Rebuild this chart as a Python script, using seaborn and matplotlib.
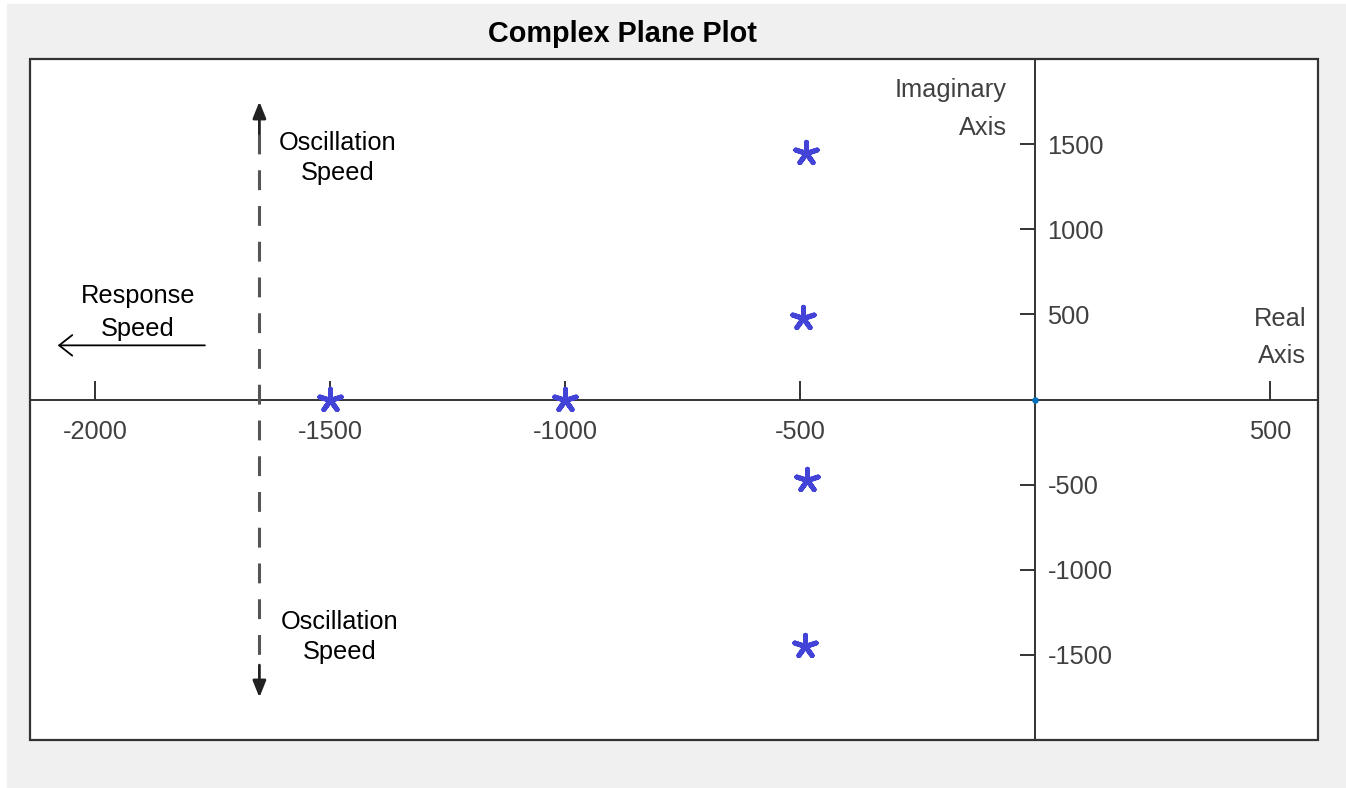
import matplotlib
matplotlib.use("Agg")
import matplotlib.pyplot as plt
import seaborn as sns
from matplotlib.patches import Rectangle

# ── Data ──────────────────────────────────────────────────────────────────────
POLE_REAL = [-1500, -1000, -488, -494, -486, -489]
POLE_IMAG = [0, 0, 1447, 476, -471, -1447]
ORIGIN_X = [0]
ORIGIN_Y = [0]
X_TICKS = [-2000, -1500, -1000, -500, 500]
Y_TICKS = [-1500, -1000, -500, 500, 1000, 1500]
X_LIM = (-2138, 602)
Y_LIM = (-2000, 2000)

# ── Style ─────────────────────────────────────────────────────────────────────
sns.set_theme(style="white")
plt.rcParams["font.family"] = ["Liberation Sans", "DejaVu Sans"]
plt.rcParams["axes.unicode_minus"] = False

AXIS_COL = "#333333"
TEXT_COL = "#404040"
STAR_COL = "#4343d8"
FS = 18.3

fig = plt.figure(figsize=(13.46, 7.88), dpi=100, facecolor="white")
fig.add_artist(Rectangle((7 / 1346, 0), 1, 1 - 4 / 788, transform=fig.transFigure,
                         color="#f0f0f0", zorder=-10))

ax = fig.add_axes([30 / 1346, 48 / 788, 1288 / 1346, 681 / 788])
ax.set_facecolor("white")

# poles + origin
sns.scatterplot(x=POLE_REAL, y=POLE_IMAG, marker=(5, 2, 0), s=260,
                color=STAR_COL, linewidth=3.6, ax=ax, zorder=5)
sns.scatterplot(x=ORIGIN_X, y=ORIGIN_Y, color="#0072bd", s=22,
                linewidth=0, ax=ax, zorder=6)

ax.set_xlim(*X_LIM)
ax.set_ylim(*Y_LIM)

# axes through the origin
ax.spines["bottom"].set_position(("data", 0))
ax.spines["right"].set_position(("data", 0))
for sp in ax.spines.values():
    sp.set_color(AXIS_COL)
    sp.set_linewidth(1.4)
ax.add_patch(Rectangle((0, 0), 1, 1, transform=ax.transAxes, fill=False,
                       lw=1.6, ec=AXIS_COL, clip_on=False, zorder=10))

ax.xaxis.set_ticks_position("bottom")
ax.yaxis.set_ticks_position("right")
ax.set_xticks(X_TICKS)
ax.set_yticks(Y_TICKS)
ax.tick_params(axis="x", direction="in", length=14, width=1.4, color=AXIS_COL,
               pad=14.5, labelsize=FS, labelcolor=TEXT_COL)
ax.tick_params(axis="y", direction="in", length=11, width=1.4, color=AXIS_COL,
               pad=9, labelsize=FS, labelcolor=TEXT_COL)
ax.set_xlabel("")
ax.set_ylabel("")

# axis names
ax.text(-60, 1706, "Imaginary\nAxis", ha="right", va="center", fontsize=FS,
        color=TEXT_COL, linespacing=1.7)
ax.text(577, 364, "Real\nAxis", ha="right", va="center", fontsize=FS,
        color=TEXT_COL, linespacing=1.7)

# annotations
ax.text(-1483, 1417, "Oscillation\nSpeed", ha="center", va="center",
        fontsize=FS, color="black", linespacing=1.32)
ax.text(-1480, -1394, "Oscillation\nSpeed", ha="center", va="center",
        fontsize=FS, color="black", linespacing=1.32)
ax.text(-1909, 511, "Response\nSpeed", ha="center", va="center",
        fontsize=FS, color="black", linespacing=1.44)

ax.plot([-1650, -1650], [1560, -1560], color="#555555", lw=2.2,
        linestyle=(0, (6.5, 5.2)), zorder=3)
head = dict(arrowstyle="-|>,head_length=0.55,head_width=0.22", lw=2.0,
            color="#222222", mutation_scale=18, shrinkA=0, shrinkB=0)
ax.annotate("", xy=(-1650, 1750), xytext=(-1650, 1560), arrowprops=head)
ax.annotate("", xy=(-1650, -1750), xytext=(-1650, -1560), arrowprops=head)

ax.annotate("", xy=(-2079, 318), xytext=(-1766, 318),
            arrowprops=dict(arrowstyle="->,head_length=0.47,head_width=0.37",
                            lw=1.3, color="black", mutation_scale=20,
                            shrinkA=0, shrinkB=0))

fig.text(622 / 1346, 1 - 34 / 788, "Complex Plane Plot", ha="center", va="center",
         fontsize=20.8, weight="bold", color="black")

fig.savefig("out.png", dpi=100, facecolor=fig.get_facecolor())
